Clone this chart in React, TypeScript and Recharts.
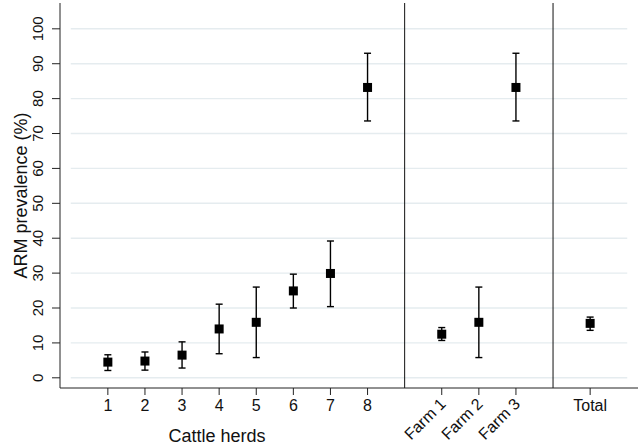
import { ScatterChart, Scatter, XAxis, YAxis, ErrorBar, ReferenceLine } from "recharts";

const FONT = "'Liberation Sans', Arial, sans-serif";

// cattle herds
const herdLabels = ["1", "2", "3", "4", "5", "6", "7", "8"];
const herdMeans = [4.5, 4.8, 6.5, 14.0, 15.9, 24.9, 29.9, 83.2];
const herdLower = [2.1, 2.2, 2.8, 6.9, 5.8, 20.0, 20.4, 73.6];
const herdUpper = [6.6, 7.4, 10.3, 21.1, 26.0, 29.7, 39.2, 93.0];

// farms
const farmLabels = ["Farm 1", "Farm 2", "Farm 3"];
const farmMeans = [12.5, 15.9, 83.2];
const farmLower = [10.7, 5.8, 73.6];
const farmUpper = [14.4, 26.0, 93.0];

// total
const totalLabels = ["Total"];
const totalMeans = [15.6];
const totalLower = [13.6];
const totalUpper = [17.4];

const yTicks = [0, 10, 20, 30, 40, 50, 60, 70, 80, 90, 100];

const groups = [
  { labels: herdLabels, means: herdMeans, lower: herdLower, upper: herdUpper, slanted: false },
  { labels: farmLabels, means: farmMeans, lower: farmLower, upper: farmUpper, slanted: true },
  { labels: totalLabels, means: totalMeans, lower: totalLower, upper: totalUpper, slanted: false },
];

// lay groups out on a numeric axis, one empty slot between groups
const rows: { x: number; y: number; err: number[] }[] = [];
const tickInfo: Record<number, { label: string; slanted: boolean }> = {};
const separators: number[] = [];
let slot = 1;
groups.forEach((g, gi) => {
  g.labels.forEach((label, i) => {
    rows.push({ x: slot, y: g.means[i], err: [g.means[i] - g.lower[i], g.upper[i] - g.means[i]] });
    tickInfo[slot] = { label, slanted: g.slanted };
    slot++;
  });
  if (gi < groups.length - 1) {
    separators.push(slot);
    slot++;
  }
});
const xTicks = Object.keys(tickInfo).map(Number);
const lastSlot = slot;

const XTick = (props: any) => {
  const { x, y, payload } = props;
  const info = tickInfo[payload.value];
  if (!info) return null;
  if (info.slanted) {
    return (
      <text
        transform={`translate(${x + 5},${y + 8}) rotate(-45)`}
        textAnchor="end"
        fontSize={16}
        fontFamily={FONT}
        fill="#111"
      >
        {info.label}
      </text>
    );
  }
  return (
    <text x={x} y={y + 14} textAnchor="middle" fontSize={16} fontFamily={FONT} fill="#111">
      {info.label}
    </text>
  );
};

const YTick = (props: any) => {
  const { y, payload } = props;
  const bx = 43.5;
  return (
    <text
      x={bx}
      y={y}
      transform={`rotate(-90, ${bx}, ${y})`}
      textAnchor="middle"
      fontSize={15}
      fontFamily={FONT}
      fill="#111"
    >
      {payload.value}
    </text>
  );
};

const Square = (props: any) => {
  const { cx, cy } = props;
  return <rect x={cx - 4.5} y={cy - 4.5} width={9} height={9} fill="#000" />;
};

export default function App() {
  return (
    <div style={{ position: "absolute", left: 0, top: 0, background: "#fff" }}>
      <ScatterChart width={642} height={445} margin={{ top: 3, right: 4, bottom: 0, left: 0 }}>
        {yTicks.map((v) => (
          <ReferenceLine
            key={v}
            segment={[
              { x: 0, y: v },
              { x: lastSlot, y: v },
            ]}
            stroke="#e5ecef"
            strokeWidth={1.4}
          />
        ))}
        {separators.map((s) => (
          <ReferenceLine key={s} x={s} stroke="#111" strokeWidth={1} />
        ))}
        <XAxis
          type="number"
          dataKey="x"
          domain={[-0.29, lastSlot + 0.29]}
          allowDataOverflow
          ticks={xTicks}
          interval={0}
          tick={<XTick />}
          tickSize={7}
          height={57}
          stroke="#222"
          tickLine={{ stroke: "#222" }}
          label={{
            content: (p: any) => (
              <text
                x={p.viewBox.x + 157}
                y={442}
                textAnchor="middle"
                fontSize={18}
                fontFamily={FONT}
                fill="#111"
              >
                Cattle herds
              </text>
            ),
          }}
        />
        <YAxis
          type="number"
          dataKey="y"
          domain={[-2.92, 107.4]}
          allowDataOverflow
          ticks={yTicks}
          interval={0}
          tick={<YTick />}
          tickSize={8}
          width={60}
          stroke="#222"
          tickLine={{ stroke: "#222" }}
          label={{
            content: (p: any) => {
              const cy = p.viewBox.y + p.viewBox.height / 2;
              return (
                <text
                  x={27}
                  y={cy}
                  transform={`rotate(-90, 27, ${cy})`}
                  textAnchor="middle"
                  fontSize={18}
                  fontFamily={FONT}
                  fill="#111"
                >
                  ARM prevalence (%)
                </text>
              );
            },
          }}
        />
        <Scatter data={rows} shape={<Square />} isAnimationActive={false}>
          <ErrorBar dataKey="err" direction="y" width={3.5} stroke="#000" strokeWidth={1.4} />
        </Scatter>
      </ScatterChart>
    </div>
  );
}
